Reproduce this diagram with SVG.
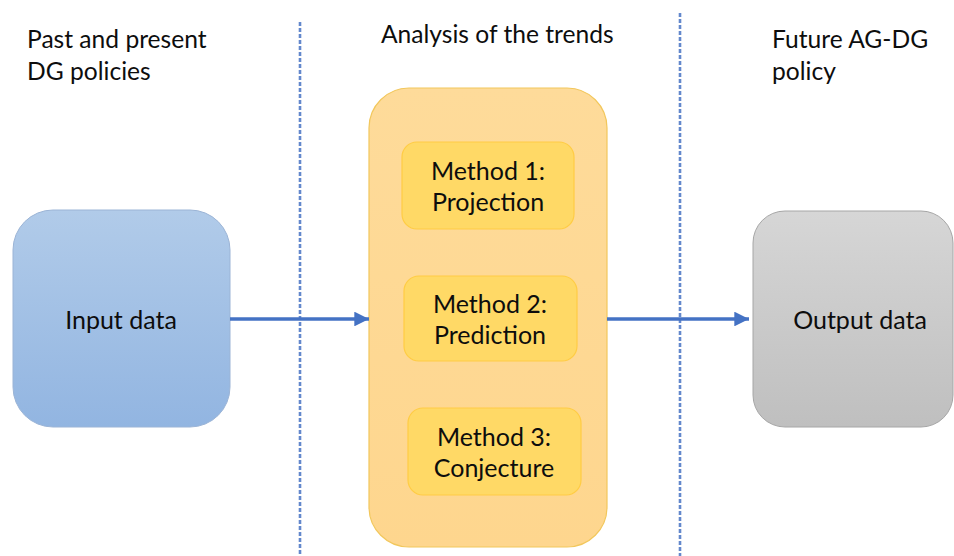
<svg xmlns="http://www.w3.org/2000/svg" width="954" height="556" viewBox="0 0 954 556">
  <style>
    text { font-family: Lato, "Open Sans", "Liberation Sans", sans-serif; fill: #0d0d0d; }
    .head { font-size: 24.6px; }
    .node { font-size: 25px; text-anchor: middle; }
    .meth { font-size: 25px; text-anchor: middle; }
    .divider { stroke: #6388CC; stroke-width: 2.6; stroke-dasharray: 4 2; fill: none; }
    .flow { stroke: #4472C4; stroke-width: 3.5; fill: none; }
    .method { fill: #FFD966; stroke: #FFCC44; stroke-width: 1.2; }
  </style>
  <defs>
    <linearGradient id="blueFill" x1="0" y1="0" x2="0" y2="1">
      <stop offset="0" stop-color="#B1CBE9"/>
      <stop offset="1" stop-color="#92B5E1"/>
    </linearGradient>
    <linearGradient id="greyFill" x1="0" y1="0" x2="0" y2="1">
      <stop offset="0" stop-color="#D6D6D6"/>
      <stop offset="1" stop-color="#BFBFBF"/>
    </linearGradient>
    <linearGradient id="amberFill" x1="0" y1="0" x2="0" y2="1">
      <stop offset="0" stop-color="#FEDB9A"/>
      <stop offset="1" stop-color="#FED68E"/>
    </linearGradient>
    <marker id="arrowHead" viewBox="0 0 10 10" refX="10" refY="5" markerWidth="4.2" markerHeight="4.2" markerUnits="strokeWidth" orient="auto">
      <path d="M0,0 L10,5 L0,10 z" fill="#4472C4"/>
    </marker>
  </defs>

  <!-- column headings -->
  <g id="headings">
    <text class="head" x="27" y="48">Past and present</text>
    <text class="head" x="27" y="80">DG policies</text>
    <text class="head" x="381" y="43">Analysis of the trends</text>
    <text class="head" x="772" y="48">Future AG-DG</text>
    <text class="head" x="772" y="80">policy</text>
  </g>

  <!-- dashed column dividers -->
  <g id="dividers">
    <line class="divider" x1="300" y1="22" x2="300" y2="556"/>
    <line class="divider" x1="680" y1="13" x2="680" y2="556"/>
  </g>

  <g id="input-data">
    <rect x="13" y="210" width="217" height="217" rx="40" fill="url(#blueFill)" stroke="#9BB4D6" stroke-width="1"/>
    <text class="node" x="121" y="329">Input data</text>
  </g>

  <g id="analysis">
    <rect x="369" y="88" width="238" height="459" rx="40" fill="url(#amberFill)" stroke="#F2C75C" stroke-width="1.2"/>
  </g>

  <g id="method-1">
    <rect class="method" x="402" y="142" width="172" height="87" rx="15"/>
    <text class="meth" x="488" y="180">Method 1:</text>
    <text class="meth" x="488" y="211">Projection</text>
  </g>

  <g id="method-2">
    <rect class="method" x="404" y="276" width="173" height="85" rx="15"/>
    <text class="meth" x="490" y="313">Method 2:</text>
    <text class="meth" x="490" y="344">Prediction</text>
  </g>

  <g id="method-3">
    <rect class="method" x="408" y="408" width="173" height="87" rx="15"/>
    <text class="meth" x="494" y="446">Method 3:</text>
    <text class="meth" x="494" y="477">Conjecture</text>
  </g>

  <g id="output-data">
    <rect x="753" y="211" width="200" height="216" rx="32" fill="url(#greyFill)" stroke="#A6A6A6" stroke-width="1"/>
    <text class="node" x="860" y="329">Output data</text>
  </g>

  <!-- flow connectors -->
  <g id="connectors">
    <line class="flow" x1="230" y1="319" x2="369" y2="319" marker-end="url(#arrowHead)"/>
    <line class="flow" x1="607" y1="319" x2="749" y2="319" marker-end="url(#arrowHead)"/>
  </g>
</svg>
